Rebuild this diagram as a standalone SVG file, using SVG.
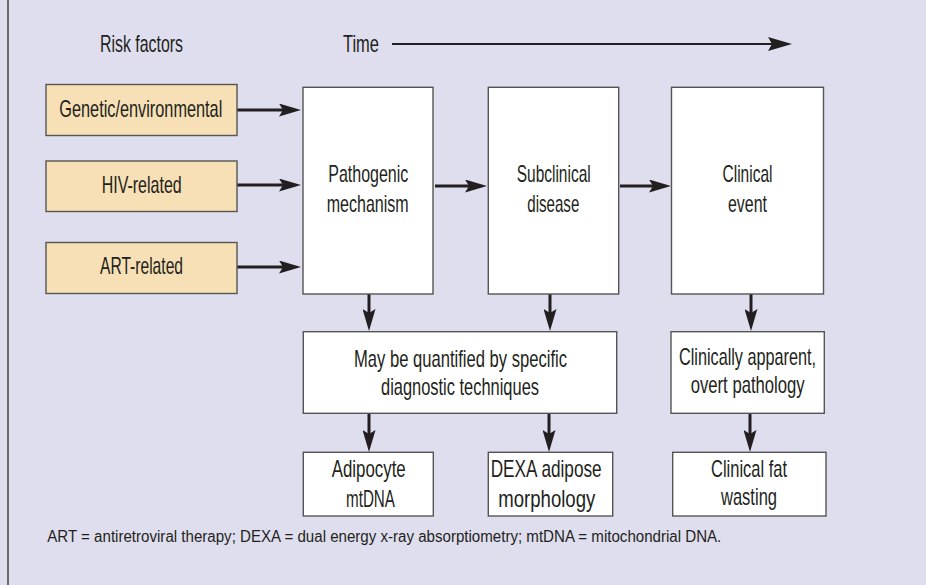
<svg xmlns="http://www.w3.org/2000/svg" width="926" height="585" viewBox="0 0 926 585">
<style>
text{font-family:"Liberation Sans",Arial,sans-serif;fill:#231f20;lengthAdjust:spacingAndGlyphs}
.t{font-size:24px}
.f{font-size:16px}
.box{fill:#ffffff;stroke:#555555;stroke-width:1.4}
.risk{fill:#f7e0b5;stroke:#555555;stroke-width:1.4}
.arr{stroke:#231f20;stroke-width:3;fill:none;marker-end:url(#ah)}
.tarr{stroke:#231f20;stroke-width:2;fill:none;marker-end:url(#ah2)}
</style>
<defs>
<marker id="ah" markerUnits="userSpaceOnUse" viewBox="0 0 22 13" refX="12" refY="6.5" markerWidth="22" markerHeight="13" orient="auto">
<path d="M0,0 L22,6.5 L0,13 L4,6.5 Z" fill="#231f20"/>
</marker>
<marker id="ah2" markerUnits="userSpaceOnUse" viewBox="0 0 24 14" refX="12" refY="7" markerWidth="24" markerHeight="14" orient="auto">
<path d="M0,0 L24,7 L0,14 L4,7 Z" fill="#231f20"/>
</marker>
</defs>
<rect x="0" y="0" width="926" height="585" fill="#dfdeee"/>
<line x1="8" y1="0" x2="8" y2="585" stroke="#444444" stroke-width="1.5"/>

<g id="header">
<text class="t" x="100" y="51.7" textLength="83" lengthAdjust="spacingAndGlyphs">Risk factors</text>
<text class="t" x="343" y="51.7" textLength="36" lengthAdjust="spacingAndGlyphs">Time</text>
</g>

<g id="connectors">
<line class="tarr" x1="392" y1="44" x2="780" y2="44"/>
<line class="arr" x1="237" y1="110" x2="291" y2="110"/>
<line class="arr" x1="237" y1="185" x2="291" y2="185"/>
<line class="arr" x1="237" y1="267" x2="291" y2="267"/>
<line class="arr" x1="435" y1="186" x2="477" y2="186"/>
<line class="arr" x1="620" y1="186" x2="661" y2="186"/>
<line class="arr" x1="369" y1="294" x2="369" y2="321"/>
<line class="arr" x1="550" y1="294" x2="550" y2="321"/>
<line class="arr" x1="751" y1="294" x2="751" y2="321"/>
<line class="arr" x1="369" y1="413" x2="369" y2="442"/>
<line class="arr" x1="549" y1="413" x2="549" y2="442"/>
<line class="arr" x1="750" y1="413" x2="750" y2="442"/>
</g>

<g id="genetic">
<rect class="risk" x="46" y="84.5" width="191" height="51"/>
<text class="t" x="59.3" y="116.7" textLength="163" lengthAdjust="spacingAndGlyphs">Genetic/environmental</text>
</g>
<g id="hiv">
<rect class="risk" x="46" y="161" width="191" height="50.5"/>
<text class="t" x="101.7" y="192.7" textLength="80" lengthAdjust="spacingAndGlyphs">HIV-related</text>
</g>
<g id="art">
<rect class="risk" x="46" y="242.5" width="191" height="51"/>
<text class="t" x="100" y="274.3" textLength="83" lengthAdjust="spacingAndGlyphs">ART-related</text>
</g>

<g id="pathogenic">
<rect class="box" x="303" y="87.3" width="130" height="206.7"/>
<text class="t" x="328.3" y="181.7" textLength="80" lengthAdjust="spacingAndGlyphs">Pathogenic</text>
<text class="t" x="326.7" y="211.7" textLength="82" lengthAdjust="spacingAndGlyphs">mechanism</text>
</g>
<g id="subclinical">
<rect class="box" x="488.3" y="87.3" width="130.4" height="206.7"/>
<text class="t" x="516.7" y="181.7" textLength="74" lengthAdjust="spacingAndGlyphs">Subclinical</text>
<text class="t" x="527.3" y="211.7" textLength="52" lengthAdjust="spacingAndGlyphs">disease</text>
</g>
<g id="clinical">
<rect class="box" x="671.5" y="87.3" width="152" height="206.7"/>
<text class="t" x="722.5" y="181.7" textLength="50" lengthAdjust="spacingAndGlyphs">Clinical</text>
<text class="t" x="728" y="211.7" textLength="39" lengthAdjust="spacingAndGlyphs">event</text>
</g>

<g id="quantified">
<rect class="box" x="303.3" y="331.7" width="313.4" height="81.6"/>
<text class="t" x="354" y="366.7" textLength="213" lengthAdjust="spacingAndGlyphs">May be quantified by specific</text>
<text class="t" x="381" y="395" textLength="158" lengthAdjust="spacingAndGlyphs">diagnostic techniques</text>
</g>
<g id="apparent">
<rect class="box" x="671" y="331.7" width="153.3" height="81.6"/>
<text class="t" x="679" y="365" textLength="137" lengthAdjust="spacingAndGlyphs">Clinically apparent,</text>
<text class="t" x="690.7" y="393.3" textLength="114" lengthAdjust="spacingAndGlyphs">overt pathology</text>
</g>

<g id="adipocyte">
<rect class="box" x="303.3" y="452.3" width="130" height="63.7"/>
<text class="t" x="331.7" y="477.3" textLength="74" lengthAdjust="spacingAndGlyphs">Adipocyte</text>
<text class="t" x="346" y="506.7" textLength="49" lengthAdjust="spacingAndGlyphs">mtDNA</text>
</g>
<g id="dexa">
<rect class="box" x="488.3" y="452.3" width="124.4" height="63.7"/>
<text class="t" x="490.7" y="477.3" textLength="111" lengthAdjust="spacingAndGlyphs">DEXA adipose</text>
<text class="t" x="498.3" y="506.7" textLength="97" lengthAdjust="spacingAndGlyphs">morphology</text>
</g>
<g id="fatwasting">
<rect class="box" x="672.7" y="452.3" width="153.3" height="63.7"/>
<text class="t" x="711" y="476.7" textLength="76" lengthAdjust="spacingAndGlyphs">Clinical fat</text>
<text class="t" x="721" y="505" textLength="56" lengthAdjust="spacingAndGlyphs">wasting</text>
</g>

<g id="footnote">
<text class="f" x="47.3" y="541.7" textLength="674" lengthAdjust="spacingAndGlyphs">ART = antiretroviral therapy; DEXA = dual energy x-ray absorptiometry; mtDNA = mitochondrial DNA.</text>
</g>
</svg>
